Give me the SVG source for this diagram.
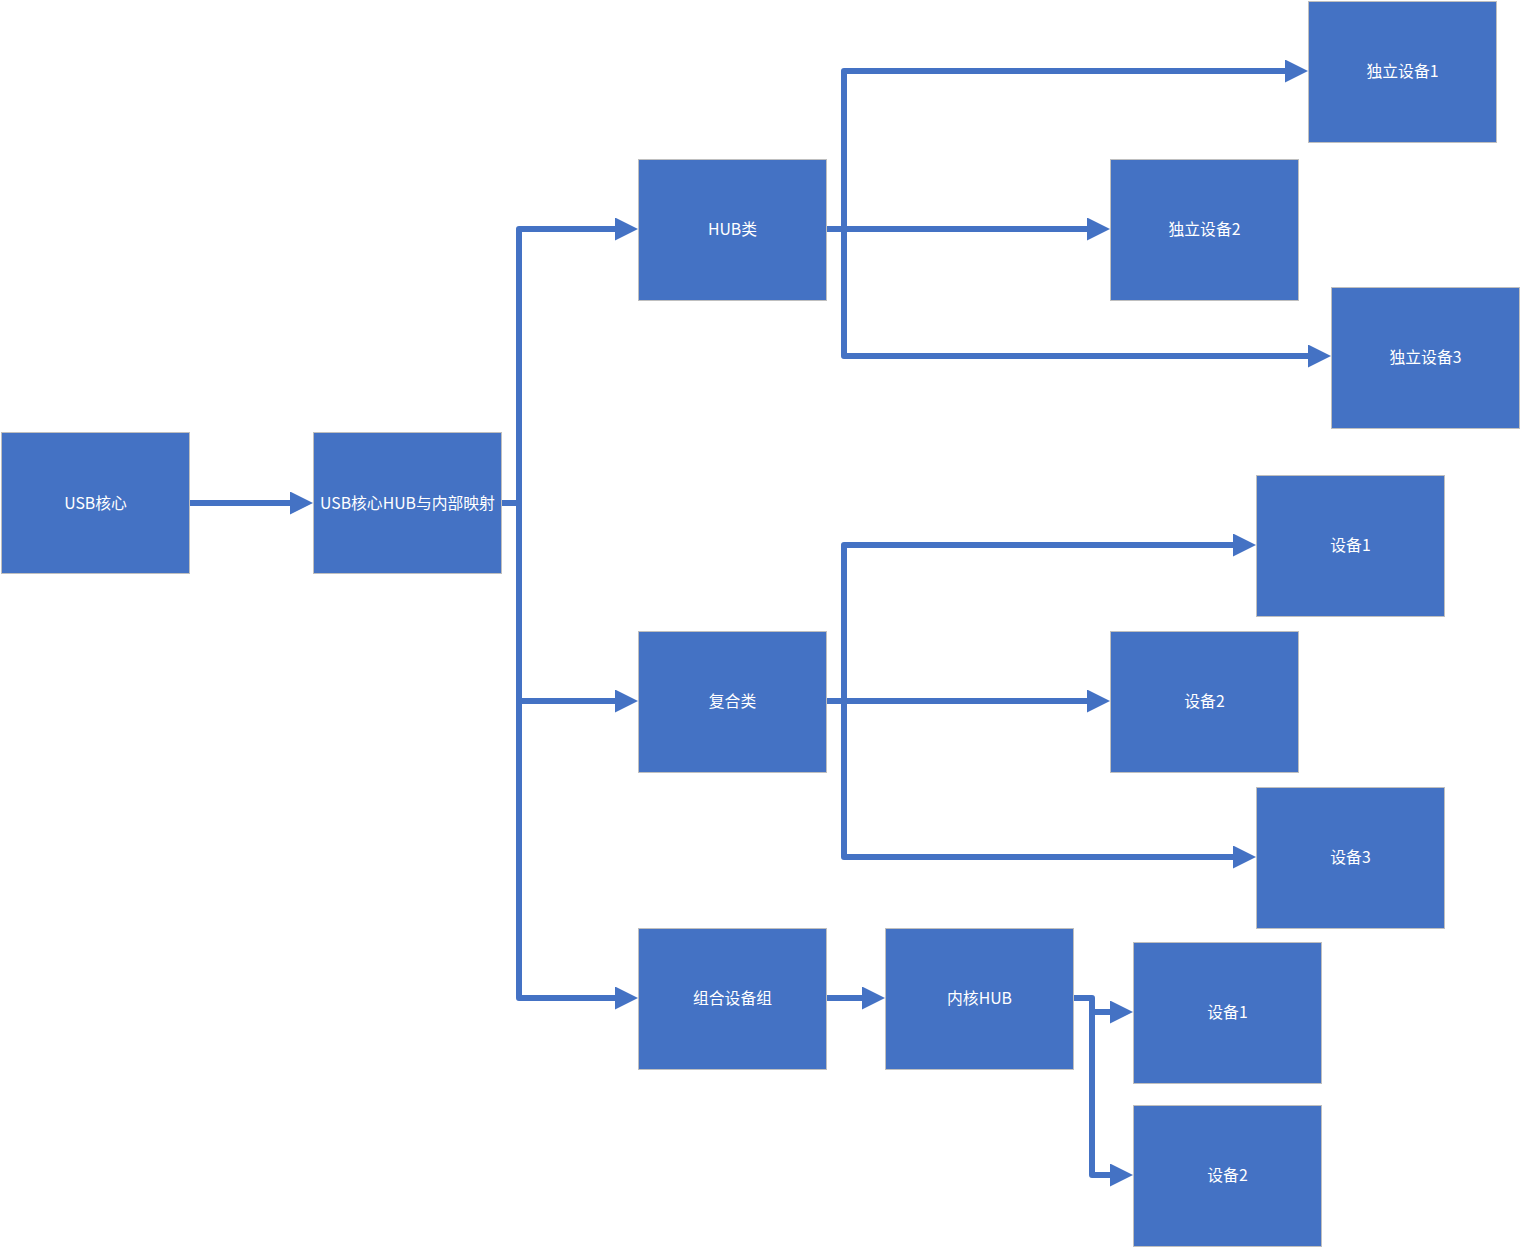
<svg xmlns="http://www.w3.org/2000/svg" width="1521" height="1247" viewBox="0 0 1521 1247">
<style>
.box{fill:#4472C4;stroke:#BFBFBF;stroke-width:1}
.lbl{fill:#FFFFFF;font-family:"Noto Sans CJK SC","Noto Sans",sans-serif;font-size:15.8px;text-anchor:middle;dominant-baseline:central}
.c{fill:none;stroke:#4472C4;stroke-width:6;stroke-linejoin:round}
.a{marker-end:url(#ah)}
</style>
<defs>
<marker id="ah" markerUnits="userSpaceOnUse" markerWidth="24" markerHeight="24" refX="0" refY="11.5" orient="auto" viewBox="0 0 24 24">
<path d="M0,0 L23,11.5 L0,23 z" fill="#4472C4"/>
</marker>
</defs>
<rect width="1521" height="1247" fill="#FFFFFF"/>
<g id="connectors">
<path class="c a" d="M189,503 H290"/>
<path class="c a" d="M501,503 H519 V229 H615"/>
<path class="c a" d="M519,503 V998 H615"/>
<path class="c a" d="M519,701 H615"/>
<path class="c a" d="M826,229 H1087"/>
<path class="c a" d="M844,229 V71 H1285"/>
<path class="c a" d="M844,229 V356 H1308"/>
<path class="c a" d="M826,701 H1087"/>
<path class="c a" d="M844,701 V545 H1233"/>
<path class="c a" d="M844,701 V857 H1233"/>
<path class="c a" d="M826,998 H862"/>
<path class="c a" d="M1073,998 H1092 V1012 H1110"/>
<path class="c a" d="M1092,1012 V1175 H1110"/>
</g>
<g id="n_usbcore"><rect class="box" x="1.5" y="432.5" width="188" height="141"/><text class="lbl" x="95.5" y="502">USB核心</text></g>
<g id="n_hubmap"><rect class="box" x="313.5" y="432.5" width="188" height="141"/><text class="lbl" x="407.5" y="502">USB核心HUB与内部映射</text></g>
<g id="n_hub"><rect class="box" x="638.5" y="159.5" width="188" height="141"/><text class="lbl" x="732.5" y="228">HUB类</text></g>
<g id="n_composite"><rect class="box" x="638.5" y="631.5" width="188" height="141"/><text class="lbl" x="732.5" y="700">复合类</text></g>
<g id="n_group"><rect class="box" x="638.5" y="928.5" width="188" height="141"/><text class="lbl" x="732.5" y="997">组合设备组</text></g>
<g id="n_khub"><rect class="box" x="885.5" y="928.5" width="188" height="141"/><text class="lbl" x="979.5" y="997">内核HUB</text></g>
<g id="n_ind1"><rect class="box" x="1308.5" y="1.5" width="188" height="141"/><text class="lbl" x="1402.5" y="70">独立设备1</text></g>
<g id="n_ind2"><rect class="box" x="1110.5" y="159.5" width="188" height="141"/><text class="lbl" x="1204.5" y="228">独立设备2</text></g>
<g id="n_ind3"><rect class="box" x="1331.5" y="287.5" width="188" height="141"/><text class="lbl" x="1425.5" y="356">独立设备3</text></g>
<g id="n_dev1"><rect class="box" x="1256.5" y="475.5" width="188" height="141"/><text class="lbl" x="1350.5" y="544">设备1</text></g>
<g id="n_dev2"><rect class="box" x="1110.5" y="631.5" width="188" height="141"/><text class="lbl" x="1204.5" y="700">设备2</text></g>
<g id="n_dev3"><rect class="box" x="1256.5" y="787.5" width="188" height="141"/><text class="lbl" x="1350.5" y="856">设备3</text></g>
<g id="n_kdev1"><rect class="box" x="1133.5" y="942.5" width="188" height="141"/><text class="lbl" x="1227.5" y="1011">设备1</text></g>
<g id="n_kdev2"><rect class="box" x="1133.5" y="1105.5" width="188" height="141"/><text class="lbl" x="1227.5" y="1174">设备2</text></g>
</svg>
